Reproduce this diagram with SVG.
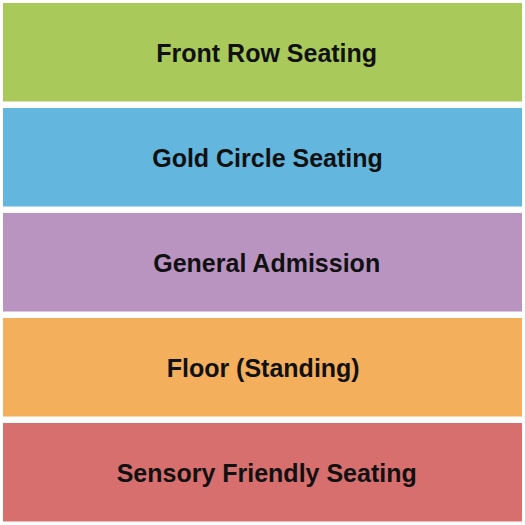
<svg xmlns="http://www.w3.org/2000/svg" width="525" height="525" viewBox="0 0 525 525">
<style>
.sec{stroke:none}
.lbl{font-family:"Liberation Sans",Arial,sans-serif;font-weight:bold;font-size:25px;fill:#111;text-anchor:middle}
</style>
<rect width="525" height="525" fill="#ffffff"/>
<g id="front-row">
<rect class="sec" x="3" y="3" width="519" height="98.5" fill="#A9CA5B"/>
<text class="lbl" x="266.7" y="61.7">Front Row Seating</text>
</g>
<g id="gold-circle">
<rect class="sec" x="3" y="108" width="519" height="98.5" fill="#63B6DE"/>
<text class="lbl" x="267.5" y="166.7">Gold Circle Seating</text>
</g>
<g id="general-admission">
<rect class="sec" x="3" y="213" width="519" height="98.5" fill="#B994C1"/>
<text class="lbl" x="266.7" y="271.7">General Admission</text>
</g>
<g id="floor">
<rect class="sec" x="3" y="318" width="519" height="98.5" fill="#F4AF5C"/>
<text class="lbl" x="263.2" y="376.7">Floor (Standing)</text>
</g>
<g id="sensory">
<rect class="sec" x="3" y="423" width="519" height="98.5" fill="#D76F6F"/>
<text class="lbl" x="266.7" y="481.7">Sensory Friendly Seating</text>
</g>
<g id="connectors"></g>
</svg>
